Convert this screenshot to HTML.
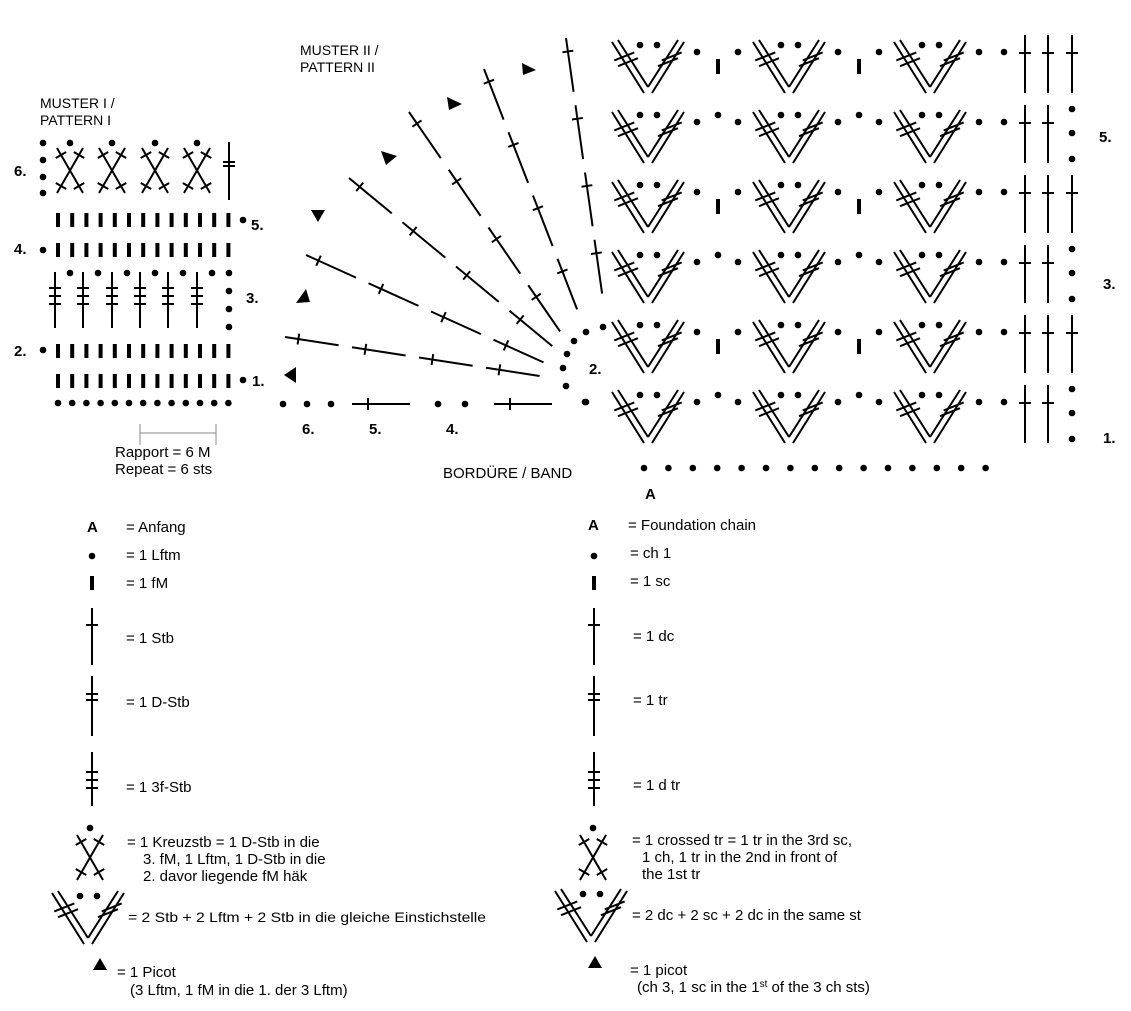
<!DOCTYPE html>
<html><head><meta charset="utf-8"><style>
html,body{margin:0;padding:0;background:#fff;}
svg{display:block;font-family:"Liberation Sans",Arial,sans-serif;}
</style></head><body>
<svg id="s" width="1131" height="1011" viewBox="0 0 1131 1011" xmlns="http://www.w3.org/2000/svg">
<g id="g" stroke="#000" stroke-width="2" fill="#000"></g>
<g font-size="15" fill="#000">
<text x="40" y="108" font-size="14">MUSTER I /</text>
<text x="40" y="125" font-size="14">PATTERN I</text>
<text x="300" y="55" font-size="14">MUSTER II /</text>
<text x="300" y="72" font-size="14">PATTERN II</text>
<g font-weight="bold" font-size="15">
<text x="14" y="176">6.</text>
<text x="251" y="230">5.</text>
<text x="14" y="254">4.</text>
<text x="246" y="303">3.</text>
<text x="14" y="356">2.</text>
<text x="252" y="386">1.</text>
<text x="302" y="434">6.</text>
<text x="369" y="434">5.</text>
<text x="446" y="434">4.</text>
<text x="589" y="374">2.</text>
<text x="1099" y="142">5.</text>
<text x="1103" y="289">3.</text>
<text x="1103" y="443">1.</text>
<text x="645" y="499">A</text>
<text x="87" y="532">A</text>
<text x="588" y="530">A</text>
</g>
<text x="115" y="457">Rapport = 6 M</text>
<text x="115" y="474">Repeat  = 6 sts</text>
<text x="443" y="478">BORDÜRE / BAND</text>
<text x="126" y="532">= Anfang</text>
<text x="126" y="560">= 1 Lftm</text>
<text x="126" y="588">= 1 fM</text>
<text x="126" y="643">= 1 Stb</text>
<text x="126" y="707">= 1 D-Stb</text>
<text x="126" y="792">= 1 3f-Stb</text>
<text x="127" y="847">= 1 Kreuzstb = 1 D-Stb in die</text>
<text x="143" y="864">3. fM, 1 Lftm, 1 D-Stb in die</text>
<text x="143" y="881">2. davor liegende fM häk</text>
<text x="128" y="922" font-size="14" textLength="358" lengthAdjust="spacingAndGlyphs">= 2 Stb + 2 Lftm + 2 Stb in die gleiche Einstichstelle</text>
<text x="117" y="977">= 1 Picot</text>
<text x="130" y="995">(3 Lftm, 1 fM in die 1. der 3 Lftm)</text>
<text x="628" y="530">= Foundation chain</text>
<text x="630" y="558">= ch 1</text>
<text x="630" y="586">= 1 sc</text>
<text x="633" y="641">= 1 dc</text>
<text x="633" y="705">= 1 tr</text>
<text x="633" y="790">= 1 d tr</text>
<text x="632" y="845">= 1 crossed tr = 1 tr in the 3rd sc,</text>
<text x="642" y="862">1 ch, 1 tr in the 2nd in front of</text>
<text x="642" y="879">the 1st tr</text>
<text x="632" y="920">= 2 dc + 2 sc + 2 dc in the same st</text>
<text x="630" y="975">= 1 picot</text>
<text x="637" y="992">(ch 3, 1 sc in the 1<tspan font-size="10" dy="-5">st</tspan><tspan dy="5"> of the 3 ch sts)</tspan></text>
</g>
<g stroke="#888" stroke-width="1"><line x1="140" y1="433" x2="216" y2="433"/><line x1="140" y1="424" x2="140" y2="445"/><line x1="216" y1="424" x2="216" y2="445"/></g>
</svg>
<script>
(function(){
var g=document.getElementById('g'),o='';
function L(a,b,c,d){o+='<line x1="'+a+'" y1="'+b+'" x2="'+c+'" y2="'+d+'"/>';}
function D(x,y,r){o+='<circle cx="'+x+'" cy="'+y+'" r="'+(r||3.3)+'" stroke="none"/>';}
function B(x,y,h){o+='<rect x="'+(x-2)+'" y="'+y+'" width="4" height="'+(h||14)+'" stroke="none"/>';}
function T(pts){o+='<polygon points="'+pts+'" stroke="none"/>';}
function tick(x,y,dx,dy,len){var n=Math.hypot(dx,dy);var px=-dy/n*len/2,py=dx/n*len/2;L(x-px,y-py,x+px,y+py);}
function dcv(x,y1,y2,ticks){L(x,y1,x,y2);ticks.forEach(function(t){L(x-6,t,x+6,t);});}
function V(ax,tp){
 L(ax-36,tp,ax-4,tp+51);L(ax-30,tp-2,ax,tp+45);
 L(ax+36,tp,ax+4,tp+51);L(ax+30,tp-2,ax,tp+45);
 [-1,1].forEach(function(s){
  [0.3,0.42].forEach(function(t){var x=ax+s*(33-31*t),y=tp+48*t;
   L(x-10,y+4,x+10,y-4);});});
 D(ax-8,tp+3);D(ax+9,tp+3);
}
[143,160,177,193].forEach(function(y){D(43,y);});
[70,112,155,197].forEach(function(cx){D(cx,143,3.3);
 L(cx-13,148,cx+13,193);L(cx+13,148,cx-13,193);
 tick(cx-9,155,26,45,12);tick(cx+9,155,-26,45,12);tick(cx-9,186,-26,45,12);tick(cx+9,186,26,45,12);});
dcv(229,142,200,[162,166]);
for(var i=0;i<13;i++){var x=58+i*14.2;B(x,213);B(x,243);B(x,344);B(x,374);D(x,403);}
D(243,220);D(43,250);D(43,350);D(243,380);
[55,83,112,140,168,197].forEach(function(x){dcv(x,272,328,[288,296,304]);D(x+15,273);});
D(229,273);D(229,291);D(229,309);D(229,327);
var rays=[[285,337,553,378],[306,255,556,368],[349,178,563,355],[409,112,568,343],[484,69,582,322],[566,38,604,307]];
rays.forEach(function(q){var dx=q[2]-q[0],dy=q[3]-q[1];
 for(var k=0;k<4;k++){var a=k/4,b=k/4+0.2;
  L(q[0]+dx*a,q[1]+dy*a,q[0]+dx*b,q[1]+dy*b);
  var t=k/4+0.05;tick(q[0]+dx*t,q[1]+dy*t,dx,dy,11);}});
T('284,375 296,367 296,383');T('296,303 306,289 310,302');T('311,210 325,210 318,222');T('381,151 397,156 386,165');T('447,97 462,104 449,110');T('522,63 536,70 523,75');
[[603,327],[586,332],[574,341],[567,354],[563,368],[566,386],[586,402]].forEach(function(p){D(p[0],p[1]);});
D(283,404);D(307,404);D(331,404);L(352,404,410,404);L(368,398,368,410);
D(438,404);D(465,404);L(494,404,552,404);L(510,398,510,410);
for(var rr=0;rr<6;rr++){var tp=42+70*rr,even=(rr%2==0);
 for(var v=0;v<3;v++){var ax=648+141*v;V(ax,tp);
  D(ax+49,tp+10);
  if(v<2){D(ax+90,tp+10);if(even)B(ax+70,tp+17,15);else D(ax+70,tp+3);}
  else{D(ax+74,tp+10);}
 }
 dcv(1025,tp-7,tp+51,[tp+11]);dcv(1048,tp-7,tp+51,[tp+11]);
 if(even)dcv(1072,tp-7,tp+51,[tp+11]);else{D(1072,tp-3);D(1072,tp+21);D(1072,tp+47);}
}
D(585,402);
for(var j=0;j<15;j++)D(644+j*24.4,468);
function legendSet(x){
 D(x,556);B(x,576,14);
 dcv(x,608,665,[625]);
 dcv(x,676,736,[694,700]);
 dcv(x,752,806,[772,780,788]);
}
legendSet(92);legendSet(594);
function lk(cx){D(cx,828);L(cx-13,835,cx+13,880);L(cx+13,835,cx-13,880);
 tick(cx-9,842,26,45,12);tick(cx+9,842,-26,45,12);tick(cx-9,872,-26,45,12);tick(cx+9,872,26,45,12);}
lk(90);lk(593);
V(88,893);V(591,891);
T('93,970 100,958 107,970');T('588,968 595,956 602,968');
g.innerHTML=o;
})();
</script>
</body></html>
